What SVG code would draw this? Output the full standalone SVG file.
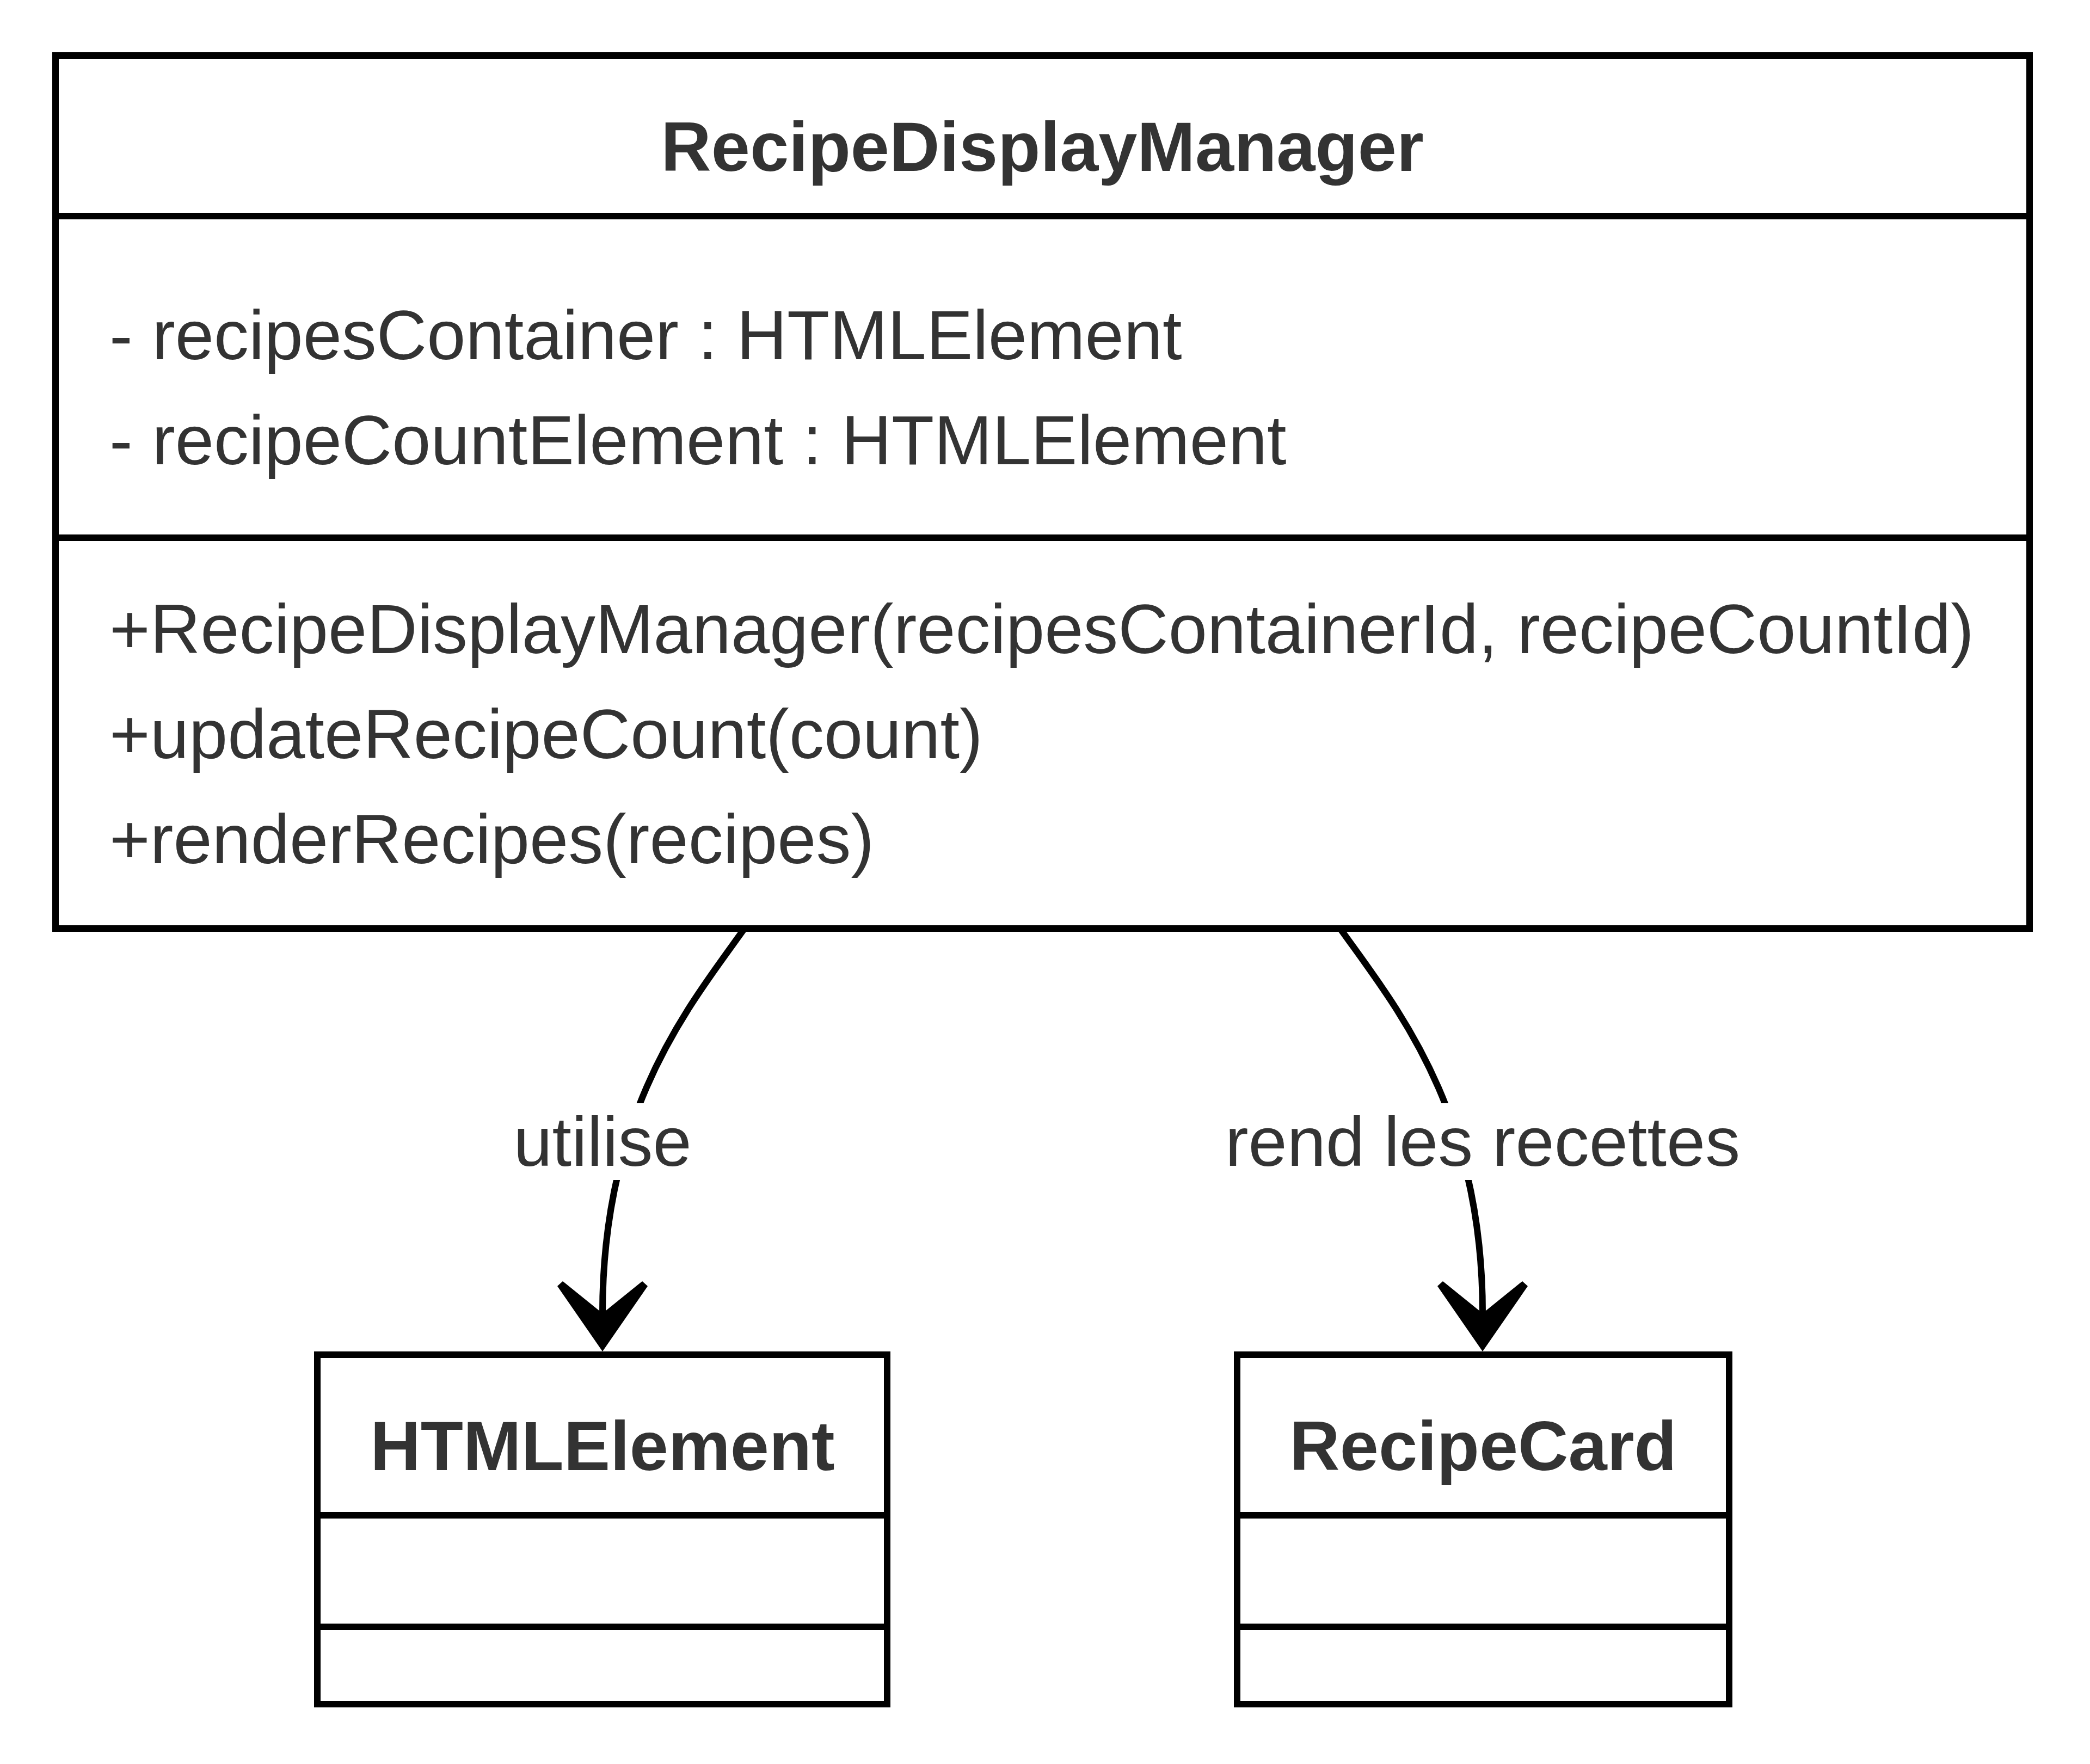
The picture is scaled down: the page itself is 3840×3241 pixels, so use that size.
<svg xmlns="http://www.w3.org/2000/svg" width="3840" height="3241" viewBox="0 0 3840 3241">
<style>
.box{fill:#ffffff;stroke:#000000;stroke-width:12}
.div{stroke:#000000;stroke-width:12}
.title{font-family:"Liberation Sans",Arial,sans-serif;font-size:128px;font-weight:bold;fill:#333333;text-anchor:middle}
.member{font-family:"Liberation Sans",Arial,sans-serif;font-size:128px;fill:#333333}
.edge{fill:none;stroke:#000000;stroke-width:12}
.lblbg{fill:#ffffff}
.lbl{font-family:"Liberation Sans",Arial,sans-serif;font-size:128px;fill:#333333;text-anchor:middle}
</style>
<defs>
<marker id="dep" markerUnits="userSpaceOnUse" orient="auto" refX="0" refY="0" markerWidth="200" markerHeight="200" overflow="visible">
<path d="M 70 0 L -50 83 L -59 73 L 0 0 L -59 -73 L -50 -83 Z" fill="#000000"/>
</marker>
</defs>
<rect width="3840" height="3241" fill="#ffffff"/>
<g id="RecipeDisplayManager">
<rect class="box" x="102" y="102" width="3627" height="1604"/>
<line class="div" x1="102" y1="397" x2="3729" y2="397"/>
<line class="div" x1="102" y1="988" x2="3729" y2="988"/>
<text class="title" x="1915" y="314">RecipeDisplayManager</text>
<text class="member" x="201" y="660">- recipesContainer : HTMLElement</text>
<text class="member" x="201" y="853">- recipeCountElement : HTMLElement</text>
<text class="member" x="201" y="1200">+RecipeDisplayManager(recipesContainerId, recipeCountId)</text>
<text class="member" x="201" y="1393">+updateRecipeCount(count)</text>
<text class="member" x="201" y="1586">+renderRecipes(recipes)</text>
</g>
<g id="HTMLElement">
<rect class="box" x="583" y="2489" width="1047" height="642"/>
<line class="div" x1="583" y1="2784" x2="1630" y2="2784"/>
<line class="div" x1="583" y1="2989" x2="1630" y2="2989"/>
<text class="title" x="1107" y="2701">HTMLElement</text>
</g>
<g id="RecipeCard">
<rect class="box" x="2273" y="2489" width="904" height="642"/>
<line class="div" x1="2273" y1="2784" x2="3177" y2="2784"/>
<line class="div" x1="2273" y1="2989" x2="3177" y2="2989"/>
<text class="title" x="2725" y="2701">RecipeCard</text>
</g>
<g id="connectors">
<path class="edge" d="M 1367 1707 C 1265 1850, 1107 2040, 1107 2413" marker-end="url(#dep)"/>
<rect class="lblbg" x="943" y="2027" width="328" height="141"/>
<text class="lbl" x="1107" y="2142">utilise</text>
<path class="edge" d="M 2463 1707 C 2565 1850, 2724 2040, 2724 2413" marker-end="url(#dep)"/>
<rect class="lblbg" x="2250" y="2027" width="948" height="141"/>
<text class="lbl" x="2724" y="2142">rend les recettes</text>
</g>
</svg>
